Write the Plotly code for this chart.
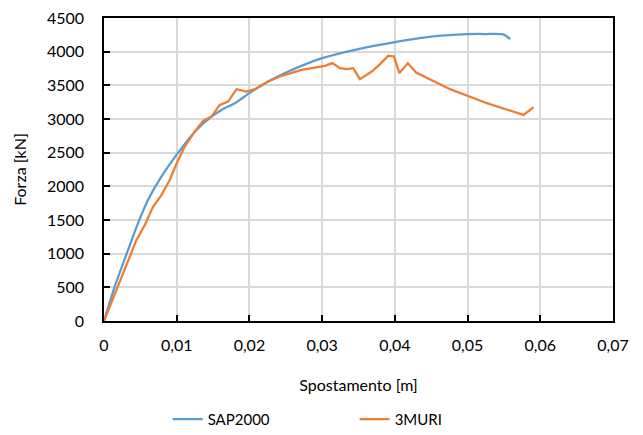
import plotly.graph_objects as go

# Pushover curves: displacement [m] vs base shear [kN]
sap_x = [0, 0.00146, 0.0033, 0.00467, 0.00605, 0.00789, 0.0100, 0.01248, 0.01478,
         0.01616, 0.0180, 0.0200, 0.02258, 0.02533, 0.0300, 0.0345, 0.0400,
         0.0453, 0.0499, 0.0525, 0.0549, 0.05587]
sap_y = [0, 506, 1052, 1449, 1796, 2143, 2470, 2812, 3036,
         3135, 3235, 3384, 3556, 3705, 3904, 4028, 4143,
         4226, 4260, 4262, 4256, 4187]

muri_x = [0, 0.00123, 0.00238, 0.00445, 0.0056, 0.00674, 0.00789, 0.00904, 0.0100,
          0.0111, 0.01248, 0.01363, 0.01478, 0.01592, 0.01707, 0.01822, 0.0196,
          0.02074, 0.02258, 0.02442, 0.02717, 0.02946, 0.03038, 0.03139, 0.03245,
          0.03337, 0.03428, 0.0352, 0.03682, 0.03796, 0.0391, 0.03989, 0.04062,
          0.04178, 0.04292, 0.0476, 0.05266, 0.0577, 0.05908]
muri_y = [0, 333, 655, 1201, 1424, 1696, 1870, 2094, 2342,
          2589, 2812, 2971, 3036, 3210, 3259, 3443, 3408,
          3443, 3556, 3641, 3730, 3780, 3790, 3830, 3755,
          3741, 3755, 3592, 3705, 3815, 3939, 3929, 3681,
          3830, 3690, 3443, 3235, 3061, 3175]

FONT = "Lato"
FS = 16
TXT = "#000000"

fig = go.Figure()
fig.add_trace(go.Scatter(x=sap_x, y=sap_y, mode="lines", name="SAP2000",
                         line=dict(color="#5B9BD5", width=2.25, shape="spline", smoothing=0.6)))
fig.add_trace(go.Scatter(x=muri_x, y=muri_y, mode="lines", name="3MURI",
                         line=dict(color="#ED7D31", width=2.25)))

axis_common = dict(
    showline=True, linecolor="#000000", linewidth=1.5, mirror=True,
    showgrid=True, gridcolor="#D9D9D9", gridwidth=1.5,
    ticks="inside", ticklen=6, tickcolor="#000000", tickwidth=1.5,
    zeroline=False, tickfont=dict(family=FONT, size=FS, color=TXT),
    automargin=False,
)

fig.update_xaxes(range=[0, 0.07], dtick=0.01, tick0=0, ticklabelstandoff=9,
                 title=dict(text="Spostamento [m]", font=dict(family=FONT, size=FS, color=TXT), standoff=27),
                 **axis_common)
fig.update_yaxes(range=[0, 4500], dtick=500, tick0=0, ticklabelstandoff=15,
                 title=dict(text="Forza [kN]", font=dict(family=FONT, size=FS, color=TXT), standoff=16),
                 **axis_common)

fig.update_layout(
    width=643, height=435,
    margin=dict(l=104, r=30, t=18, b=114, pad=0, autoexpand=False),
    paper_bgcolor="white", plot_bgcolor="white",
    separators=",.",
    font=dict(family=FONT, size=FS, color=TXT),
    showlegend=True,
    legend=dict(orientation="h", x=0.125, xanchor="left",
                yref="container", y=0.036, yanchor="middle",
                font=dict(family=FONT, size=15, color=TXT),
                entrywidthmode="pixels", entrywidth=142),
)

fig.write_html("out.html")
